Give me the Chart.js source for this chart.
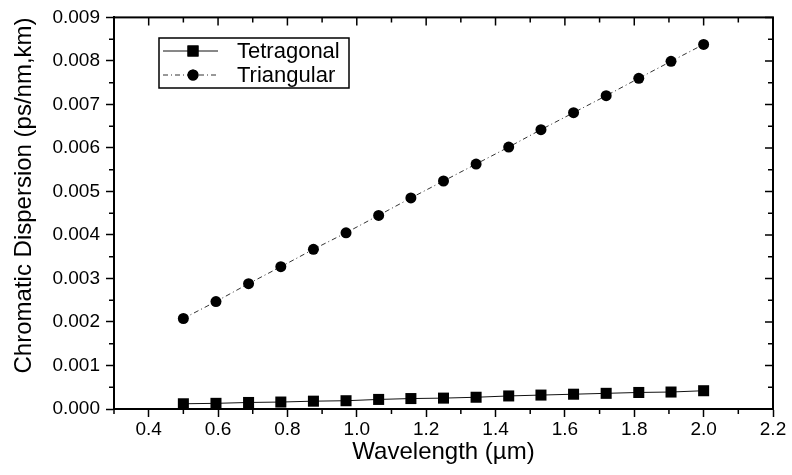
<!DOCTYPE html>
<html>
<head>
<meta charset="utf-8">
<script src="https://cdn.jsdelivr.net/npm/chart.js@4"></script>
<style>
  html, body { margin: 0; padding: 0; background: #fff; }
  #wrap { width: 792px; height: 475px; position: relative; }
</style>
</head>
<body>
<div id="wrap"><canvas id="chart"></canvas></div>
<script>
// wavelength in µm
var wavelength = [0.5, 0.594, 0.688, 0.781, 0.875, 0.969, 1.063, 1.156, 1.25, 1.344, 1.438, 1.531, 1.625, 1.719, 1.813, 1.906, 2.0];
// chromatic dispersion, ps/nm,km
var tetragonal = [0.00012, 0.00013, 0.00015, 0.00016, 0.00018, 0.00019, 0.00022, 0.00024, 0.00025, 0.00027, 0.0003, 0.00032, 0.00034, 0.00036, 0.00038, 0.00039, 0.00042];
var triangular = [0.00208, 0.00247, 0.00288, 0.00327, 0.00367, 0.00405, 0.00445, 0.00485, 0.00524, 0.00563, 0.00602, 0.00642, 0.00681, 0.0072, 0.0076, 0.00799, 0.00838];
var seriesNames = ['Tetragonal', 'Triangular'];

var FONT = '"Liberation Sans", Arial, sans-serif';

function toPoints(xs, ys) {
    return xs.map(function (x, i) { return { x: x, y: ys[i] }; });
}

// frame on top/right + minor ticks + inward ticks on the mirror sides
var frameTicks = {
    id: 'frameTicks',
    afterDraw: function (chart) {
        var ctx = chart.ctx, a = chart.chartArea;
        var xs = chart.scales.x, ys = chart.scales.y;
        ctx.save();
        ctx.strokeStyle = '#000';
        ctx.lineWidth = 2;
        ctx.strokeRect(a.left, a.top, a.right - a.left, a.bottom - a.top);

        ctx.lineWidth = 1.5;
        ctx.beginPath();
        xs.ticks.forEach(function (t) {
            var px = xs.getPixelForValue(t.value);
            ctx.moveTo(px, a.top); ctx.lineTo(px, a.top + 8);
            var mid = t.value - 0.1;
            if (mid > xs.min) {
                var mx = xs.getPixelForValue(mid);
                ctx.moveTo(mx, a.bottom); ctx.lineTo(mx, a.bottom + 5);
                ctx.moveTo(mx, a.top); ctx.lineTo(mx, a.top + 5);
            }
        });
        ys.ticks.forEach(function (t) {
            var py = ys.getPixelForValue(t.value);
            ctx.moveTo(a.right, py); ctx.lineTo(a.right - 8, py);
            var mid = t.value + 0.0005;
            if (mid < ys.max) {
                var my = ys.getPixelForValue(mid);
                ctx.moveTo(a.left, my); ctx.lineTo(a.left - 5, my);
                ctx.moveTo(a.right, my); ctx.lineTo(a.right - 5, my);
            }
        });
        ctx.stroke();
        ctx.restore();
    }
};

// boxed legend inside the plot, upper left
var boxLegend = {
    id: 'boxLegend',
    afterDraw: function (chart) {
        var ctx = chart.ctx;
        var bx = 159, by = 38, bw = 190, bh = 50;
        ctx.save();
        ctx.strokeStyle = '#000';
        ctx.lineWidth = 1.5;
        ctx.strokeRect(bx, by, bw, bh);
        ctx.font = '22px ' + FONT;
        ctx.textBaseline = 'middle';
        chart.data.datasets.forEach(function (ds, i) {
            var cy = by + 13 + i * 24;
            ctx.strokeStyle = ds.borderColor;
            ctx.lineWidth = 1;
            ctx.setLineDash(ds.borderDash || []);
            ctx.beginPath();
            ctx.moveTo(bx + 4, cy); ctx.lineTo(bx + 59, cy);
            ctx.stroke();
            ctx.setLineDash([]);
            Chart.helpers.drawPoint(ctx, {
                pointStyle: ds.pointStyle, radius: ds.pointRadius, borderWidth: 0
            }, bx + 34, cy);
            ctx.fillStyle = '#000';
            ctx.fill();
            ctx.fillText(ds.label, bx + 78, cy + 1);
        });
        ctx.restore();
    }
};

var chart = new Chart(document.getElementById('chart'), {
    type: 'line',
    data: {
        datasets: [{
            label: seriesNames[0],
            data: toPoints(wavelength, tetragonal),
            borderColor: '#111',
            borderWidth: 1,
            backgroundColor: '#000',
            pointBackgroundColor: '#000',
            pointBorderWidth: 0,
            pointStyle: 'rect',
            pointRadius: 7.8,
            clip: false
        }, {
            label: seriesNames[1],
            data: toPoints(wavelength, triangular),
            borderColor: '#333',
            borderWidth: 1,
            borderDash: [5, 3, 1, 3],
            backgroundColor: '#000',
            pointBackgroundColor: '#000',
            pointBorderWidth: 0,
            pointStyle: 'circle',
            pointRadius: 5.5,
            clip: false
        }]
    },
    options: {
        responsive: true,
        maintainAspectRatio: false,
        animation: false,
        layout: { padding: { top: 15, right: 19, left: 0, bottom: 0 } },
        plugins: {
            legend: { display: false },
            tooltip: { enabled: false }
        },
        scales: {
            x: {
                type: 'linear',
                min: 0.3,
                max: 2.2,
                afterFit: function (s) { s.height = 66; },
                ticks: {
                    stepSize: 0.2,
                    includeBounds: false,
                    color: '#000',
                    padding: 1,
                    font: { family: FONT, size: 19 },
                    maxRotation: 0,
                    callback: function (v) { return v.toFixed(1); }
                },
                grid: { drawOnChartArea: false, tickLength: 8, tickColor: '#000', tickWidth: 1.5 },
                border: { color: '#000', width: 2 },
                title: {
                    display: true,
                    text: 'Wavelength (µm)',
                    color: '#000',
                    font: { family: FONT, size: 24 },
                    padding: { top: 0, bottom: 8 }
                }
            },
            y: {
                type: 'linear',
                min: 0,
                max: 0.009,
                afterFit: function (s) { s.width = 114; },
                ticks: {
                    stepSize: 0.001,
                    color: '#000',
                    padding: 6,
                    font: { family: FONT, size: 19 },
                    callback: function (v) { return v.toFixed(3); }
                },
                grid: { drawOnChartArea: false, tickLength: 8, tickColor: '#000', tickWidth: 1.5 },
                border: { color: '#000', width: 2 },
                title: {
                    display: true,
                    text: 'Chromatic Dispersion (ps/nm,km)',
                    align: 'end',
                    color: '#000',
                    font: { family: FONT, size: 24 },
                    padding: { top: 10, bottom: 0 }
                }
            }
        }
    },
    plugins: [frameTicks, boxLegend]
});
</script>
</body>
</html>
